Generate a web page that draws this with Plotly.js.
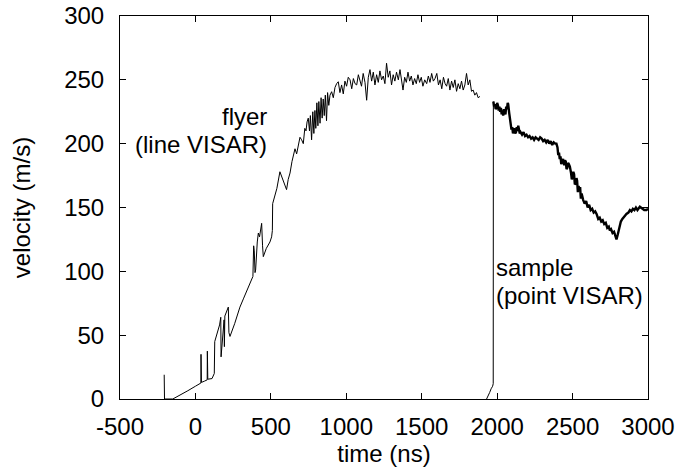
<!DOCTYPE html>
<html>
<head>
<meta charset="utf-8">
<script src="https://cdn.plot.ly/plotly-3.0.1.min.js"></script>
<style>html,body{margin:0;padding:0;background:#fff;}#chart{width:696px;height:472px;}</style>
</head>
<body>
<div id="chart"></div>
<script>
// flyer (line VISAR) — time (ns) and velocity (m/s)
const flyerT = [-207,-205,-150,-100,-50,0,36,37,40,60,78,79,82,110,125,128,140,160,168,170,190,192,195,215,218,222,229,260,295,320,350,373,381,386,390,395,399,410,417,425,439,445,450,470,494,505,510,512,523,540,560,572,582,595,604,615,627,640,649,660,671,682,693,704,715,725,733,740,748,756,762,770,778,785,792,798,805,812,818,826,833,840,847,854,861,869,876,884,892,903,914,925,936,947,958,969,980,991,1002,1013,1025,1036,1047,1058,1069,1080,1090,1101,1112,1124,1135,1146,1157,1168,1179,1190,1201,1212,1223,1234,1245,1256,1267,1278,1289,1300,1311,1322,1333,1345,1356,1366,1376,1387,1398,1409,1420,1431,1442,1453,1464,1475,1486,1497,1508,1520,1533,1544,1555,1566,1577,1588,1600,1611,1622,1633,1644,1655,1665,1676,1687,1698,1709,1720,1731,1742,1753,1764,1775,1786,1797,1808,1819,1830,1841,1852,1863,1874,1886];
const flyerV = [19,0,0,3,6.5,10,12.5,35,13,14,15,37.5,15.5,16,20,45,50,58,64,33,62,41,65,71,72,52,49,59,72,79,87,94.5,96,120,116,99,101,123,130,127,137.6,120,111.5,118,123,127,132,153,157,165,178,174,171.5,168,164,172,177,186,192,196,192,200,205,203,200,212,210,217,220,210,222,203,225,208,226,212,232,214,233,216,236,220,235,222,238,218,240,230,238,240.7,236,244,247,248.5,240,246,239,249,245,252,250,243,251,247,246,254,250,245,255,248,234,252,258,249,256,246,254,248,257,250,253,247,263,252,257,246,254,249,256,250,258,251,242,252,248,256,249,253,246,251,247,254,248,252,245,250,247,253,248,255,249,251,255,246,250,243,252,247,245,251,242,249,244,250,241,247,243,249,242,246,255,246,250,241,242,238,240,236,237];

// sample (point VISAR) — rise and jump
const sampleRiseT = [1930,1940,1950,1960,1970,1974,1975];
const sampleRiseV = [0,2,5,8,10,12,233];
// sample (point VISAR) — after the jump
const sampleT = [1975,1980,1985,1990,1995,2000,2005,2010,2015,2020,2025,2030,2035,2040,2045,2050,2055,2060,2065,2070,2073,2080,2088,2095,2100,2105,2110,2115,2120,2125,2130,2135,2140,2145,2150,2155,2165,2175,2185,2195,2205,2215,2225,2235,2245,2255,2265,2275,2285,2295,2305,2315,2325,2335,2345,2355,2365,2375,2385,2393,2400,2405,2410,2415,2420,2425,2430,2437,2445,2450,2455,2460,2465,2470,2475,2482,2490,2495,2500,2505,2510,2515,2520,2526,2530,2535,2540,2545,2550,2555,2560,2565,2570,2580,2590,2600,2610,2620,2630,2640,2650,2659,2670,2680,2690,2700,2710,2720,2730,2740,2747,2755,2765,2775,2785,2791,2800,2810,2820,2830,2840,2850,2857,2870,2880,2890,2900,2910,2920,2930,2946,2960,2975,2990,3000];
const sampleV = [233,229,231,227,228,232,230,226,229,225,228,223,226,222,227,224,223,229,227,232,231,224,215,211,213,208,211,212,208,209,213,210,214,210,208,209,207,209,206,207,205,206,204,205,203,205,204,203,205,204,202,203,201,203,200,202,199,201,200,200,197,191,193,188,190,184,186,188,183,187,186,180,181,185,184,182,177,172,174,178,176,168,169,173,171,162,167,163,166,157,161,158,156,153,155,150,152,148,149,146,147,145,141,142,139,140,137,138,134,135,132,133,130,131,127,125,129,134,139,141,143,144,145,146,148,147,149,148,150,148,150.6,149,148,148,149];

// labels
const xTickVals = [-500,0,500,1000,1500,2000,2500,3000];
const xTickText = ['-500','0','500','1000','1500','2000','2500','3000'];
const yTickVals = [0,50,100,150,200,250,300];
const xTitle = 'time (ns)';
const yTitle = 'velocity (m/s)';
const flyerLabel = ['flyer', '(line VISAR)'];
const sampleLabel = ['sample', '(point VISAR)'];

const FONT = 'Liberation Sans, Arial, Helvetica, sans-serif';
const FS = 24;

const traces = [
  {x: flyerT, y: flyerV, type: 'scatter', mode: 'lines', line: {color: '#000', width: 1}, hoverinfo: 'skip'},
  {x: sampleRiseT, y: sampleRiseV, type: 'scatter', mode: 'lines', line: {color: '#000', width: 1}, hoverinfo: 'skip'},
  {x: sampleT, y: sampleV, type: 'scatter', mode: 'lines', line: {color: '#000', width: 2.4}, hoverinfo: 'skip'}
];

const txt = {family: FONT, size: FS, color: '#000'};

const layout = {
  width: 696, height: 472,
  margin: {l: 120, r: 48, t: 16, b: 73, pad: 0},
  paper_bgcolor: '#fff', plot_bgcolor: '#fff',
  showlegend: false,
  font: txt,
  xaxis: {
    range: [-500, 3000], tickvals: xTickVals, ticktext: xTickText, ticks: 'inside', ticklen: 6, tickcolor: '#000',
    showline: true, linecolor: '#000', linewidth: 1, mirror: 'ticks',
    showgrid: false, zeroline: false,
    tickfont: txt,
    ticklabelstandoff: 6,
    title: {text: xTitle, font: txt, standoff: 4}
  },
  yaxis: {
    range: [0, 300], tickvals: yTickVals, ticks: 'inside', ticklen: 6, tickcolor: '#000',
    showline: true, linecolor: '#000', linewidth: 1, mirror: 'ticks',
    showgrid: false, zeroline: false,
    tickfont: txt,
    ticklabelstandoff: 10,
    title: {text: yTitle, font: txt, standoff: 26}
  },
  annotations: [
    {x: 481, y: 221.5, xref: 'x', yref: 'y', text: flyerLabel[0], showarrow: false, xanchor: 'right', yanchor: 'middle', borderpad: 0, font: txt},
    {x: 481, y: 199.5, xref: 'x', yref: 'y', text: flyerLabel[1], showarrow: false, xanchor: 'right', yanchor: 'middle', borderpad: 0, font: txt},
    {x: 1986, y: 103, xref: 'x', yref: 'y', text: sampleLabel[0], showarrow: false, xanchor: 'left', yanchor: 'middle', borderpad: 0, font: txt},
    {x: 1986, y: 81, xref: 'x', yref: 'y', text: sampleLabel[1], showarrow: false, xanchor: 'left', yanchor: 'middle', borderpad: 0, font: txt}
  ]
};

Plotly.newPlot('chart', traces, layout, {staticPlot: true, displayModeBar: false});
</script>
</body>
</html>
